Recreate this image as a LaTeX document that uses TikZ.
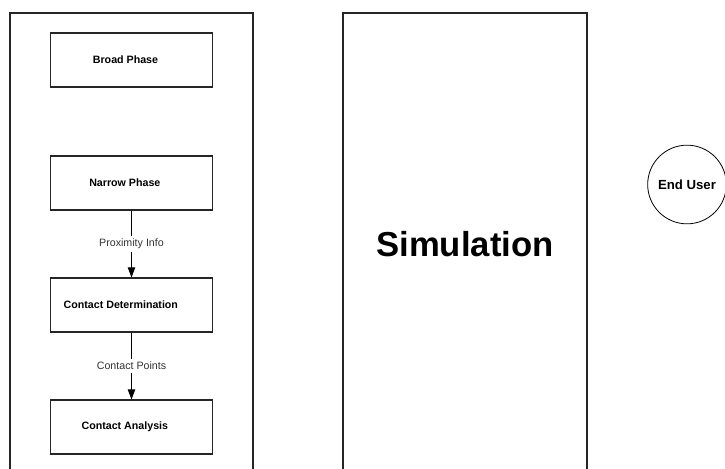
\documentclass[tikz,border=0pt]{standalone}
\usepackage{fontspec}
\setmainfont{Liberation Sans}
\usetikzlibrary{arrows.meta}
\begin{document}
\begin{tikzpicture}[x=0.75pt,y=-0.75pt,
  panel/.style={line width=1.2pt, draw=black!85},
  stage/.style={draw=black!85, line width=0.8pt, minimum width=121.5pt, minimum height=40.5pt, inner sep=0pt},
  stagetext/.style={font=\bfseries\fontsize{8}{9.6}\selectfont, inner sep=0pt},
  flow/.style={draw=black, line width=0.7pt, -{Triangle[length=7.5pt,width=5.5pt]}},
  flowlabel/.style={font=\fontsize{8}{9.6}\selectfont, text=black!80, fill=white, inner sep=2pt},
  actor/.style={circle, draw=black, line width=0.6pt, minimum size=59pt, inner sep=0pt, font=\bfseries\fontsize{9.9}{12}\selectfont}
]
\useasboundingbox (0,0) rectangle (725,468);
\clip (0,0) rectangle (725,468);

% collision detection panel, open at the bottom
\draw[panel] (10,480) -- (10,13) -- (253,13) -- (253,480);
% simulation panel, open at the bottom
\draw[panel] (343,480) -- (343,13) -- (587,13) -- (587,480);
\node[font=\bfseries\fontsize{26}{31}\selectfont, inner sep=0pt] (sim) at (465,244) {Simulation};

% pipeline stages
\node[stage] (bp) at (131.5,60) {};
\node[stagetext] (bpt) at ([xshift=-4.5pt]bp.center) {Broad Phase};
\node[stage] (np) at (131.5,183) {};
\node[stagetext] (npt) at ([xshift=-5pt]np.center) {Narrow Phase};
\node[stage] (cd) at (131.5,305) {};
\node[stagetext] (cdt) at ([xshift=-8pt]cd.center) {Contact Determination};
\node[stage] (ca) at (131.5,427) {};
\node[stagetext] (cat) at ([xshift=-5pt]ca.center) {Contact Analysis};

% data passed between stages
\draw[flow] (np.south) -- node[flowlabel] (pi) {Proximity Info} (cd.north);
\draw[flow] (cd.south) -- node[flowlabel] (cp) {Contact Points} (ca.north);

% external actor
\node[actor] (user) at (687,184.5) {End User};
\end{tikzpicture}
\end{document}
